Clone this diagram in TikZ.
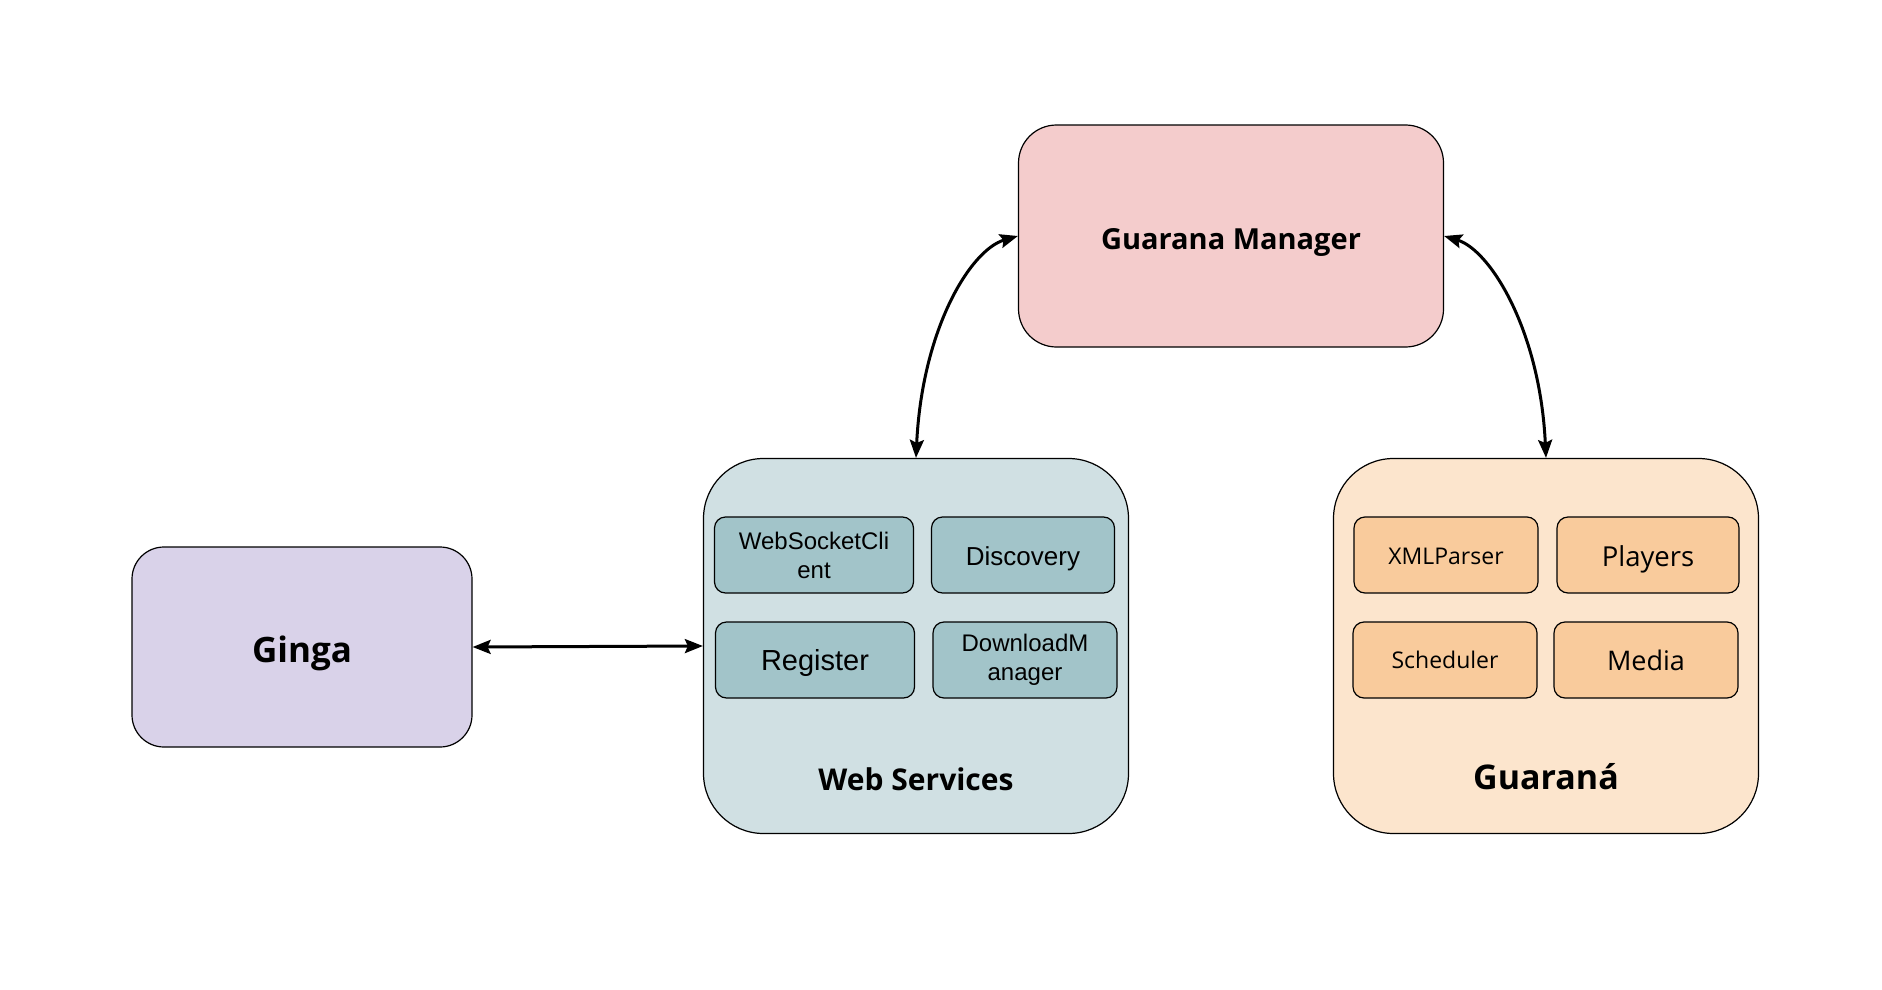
\documentclass[tikz,border=0pt]{standalone}
\usepackage{fontspec}
\setmainfont{Liberation Sans}
\newfontfamily\proxi{Open Sans}
\usetikzlibrary{positioning,arrows.meta}

\definecolor{gmfill}{HTML}{F4CCCC}
\definecolor{gingafill}{HTML}{D9D2E9}
\definecolor{wsfill}{HTML}{D0E0E3}
\definecolor{wsinner}{HTML}{A2C4C9}
\definecolor{gufill}{HTML}{FCE5CD}
\definecolor{guinner}{HTML}{F9CB9C}

\begin{document}
\begin{tikzpicture}[x=1pt,y=-1pt,on grid,
  bigbox/.style={draw,line width=1.2pt,rounded corners=60pt,minimum width=425pt,minimum height=375pt},
  topbox/.style={draw,line width=1.2pt,rounded corners=38pt,minimum width=425pt,minimum height=222pt},
  sidebox/.style={draw,line width=1.2pt,rounded corners=32pt,minimum width=340pt,minimum height=200pt},
  inbox/.style={draw,line width=1.2pt,rounded corners=11pt,minimum height=76pt,align=center},
  oneline/.style={text height=#1,text depth=0pt},
  title/.style={font=\proxi\bfseries\fontsize{#1}{#1}\selectfont},
  tip/.tip={Stealth[length=18pt,width=14pt,inset=3pt]},
  link/.style={tip-tip,line width=3pt}]
  \useasboundingbox (0,0) rectangle (1882,990);
  % main blocks
  \node[topbox,fill=gmfill,title=29,oneline=27pt] (gm) at (1231,236) {Guarana Manager};
  \node[bigbox,fill=wsfill] (ws) at (916,646) {};
  \node[bigbox,fill=gufill] (gu) at (1546,646) {};
  \node[sidebox,fill=gingafill,title=35,oneline=31pt] (ginga) at (302,647) {Ginga};
  % web services parts (y runs downwards, so below/above are swapped)
  \node[inbox,fill=wsinner,minimum width=199pt,font=\fontsize{24}{29}\selectfont] (wsc) [below left=91 and 102 of ws] {WebSocketCli\\ent};
  \node[inbox,fill=wsinner,minimum width=183pt,oneline=20.6pt,font=\fontsize{26}{28}\selectfont] (disc) [below right=91 and 107 of ws] {Discovery};
  \node[inbox,fill=wsinner,minimum width=199pt,oneline=21pt,font=\fontsize{29}{32}\selectfont] (reg) [above left=14 and 101 of ws] {Register};
  \node[inbox,fill=wsinner,minimum width=184pt,font=\fontsize{24}{29}\selectfont] (dm) [above right=14 and 109 of ws] {DownloadM\\anager};
  \node[title=30,oneline=21.4pt] (wslabel) [above=134 of ws] {Web Services};
  % guarana parts
  \node[inbox,fill=guinner,minimum width=184pt,oneline=18.4pt,font=\proxi\fontsize{23}{26}\selectfont] (xml) [below left=91 and 100 of gu] {XMLParser};
  \node[inbox,fill=guinner,minimum width=182pt,oneline=22.6pt,font=\proxi\fontsize{27.5}{30}\selectfont] (play) [below right=91 and 102 of gu] {Players};
  \node[inbox,fill=guinner,minimum width=184pt,oneline=17.4pt,font=\proxi\fontsize{23}{26}\selectfont] (sched) [above left=14 and 101 of gu] {Scheduler};
  \node[inbox,fill=guinner,minimum width=184pt,oneline=21.3pt,font=\proxi\fontsize{27}{30}\selectfont] (media) [above right=14 and 100 of gu] {Media};
  \node[title=34,oneline=24pt] (gulabel) [above=131 of gu] {Guaraná};
  % links
  \draw[link] (ws.north) .. controls (922,330) and (970,250) .. (gm.west);
  \draw[link] (gu.north) .. controls (1540,330) and (1490,250) .. (gm.east);
  \draw[link] (ginga.east) -- (ws.west);
\end{tikzpicture}
\end{document}
